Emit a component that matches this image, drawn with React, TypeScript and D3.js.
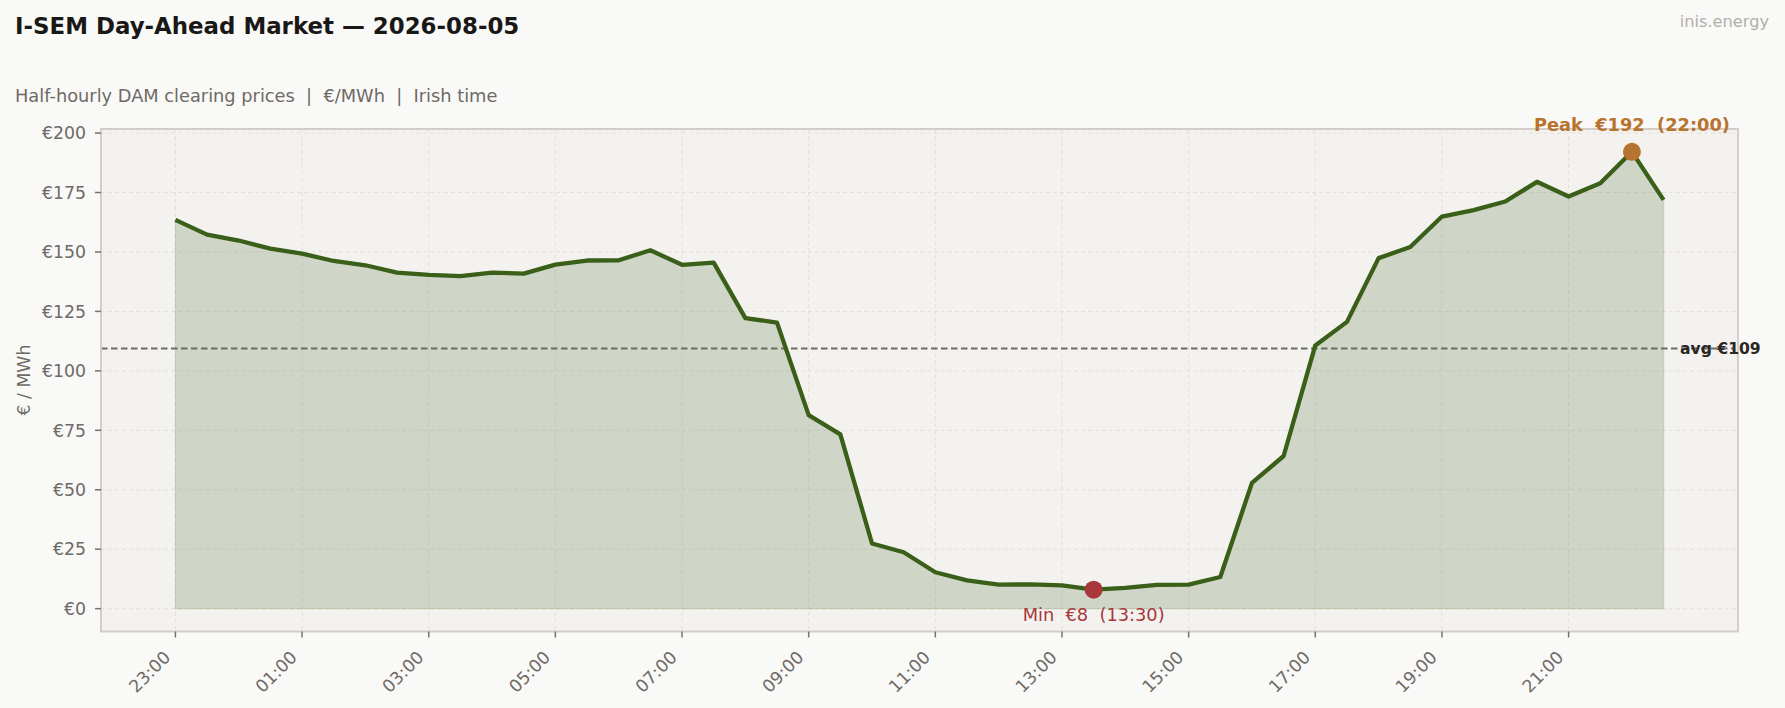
import React from "react";
import * as d3 from "d3";

const slots: string[] = [
  "23:00","23:30","00:00","00:30","01:00","01:30","02:00","02:30",
  "03:00","03:30","04:00","04:30","05:00","05:30","06:00","06:30",
  "07:00","07:30","08:00","08:30","09:00","09:30","10:00","10:30",
  "11:00","11:30","12:00","12:30","13:00","13:30","14:00","14:30",
  "15:00","15:30","16:00","16:30","17:00","17:30","18:00","18:30",
  "19:00","19:30","20:00","20:30","21:00","21:30","22:00","22:30",
];

const prices: number[] = [
  163.5, 157.3, 154.8, 151.4, 149.3, 146.2, 144.4, 141.3,
  140.4, 139.8, 141.3, 140.9, 144.7, 146.4, 146.5, 150.7,
  144.6, 145.5, 122.2, 120.3, 81.4, 73.3, 27.4, 23.7,
  15.3, 11.9, 10.1, 10.2, 9.8, 8.0, 8.7, 10.0,
  10.1, 13.3, 52.9, 64.2, 110.7, 120.6, 147.4, 152.1,
  164.9, 167.6, 171.2, 179.5, 173.3, 178.9, 192.1, 171.9,
];

const xTickLabels: string[] = ["23:00","01:00","03:00","05:00","07:00","09:00","11:00","13:00","15:00","17:00","19:00","21:00"];
const yTicks: number[] = [0, 25, 50, 75, 100, 125, 150, 175, 200];

const TITLE = "I-SEM Day-Ahead Market — 2026-08-05";
const SUBTITLE = "Half-hourly DAM clearing prices  |  €/MWh  |  Irish time";
const WATERMARK = "inis.energy";
const Y_LABEL = "€ / MWh";

const W = 1785;
const H = 708;
const FONT = "'DejaVu Sans', sans-serif";

export default function App() {
  const left = 101, right = 1738, top = 129, bottom = 631.5;
  const n = prices.length;
  const xPad = (n - 1) * 0.05;
  const x = d3.scaleLinear().domain([-xPad, n - 1 + xPad]).range([left, right]);
  const maxV = d3.max(prices) as number;
  const yPad = maxV * 0.05;
  const y = d3.scaleLinear().domain([-yPad, maxV + yPad]).range([bottom, top]);

  const data = prices.map((v, i) => ({ i, v }));
  const line = d3.line<{ i: number; v: number }>().x(d => x(d.i)).y(d => y(d.v));
  const area = d3.area<{ i: number; v: number }>().x(d => x(d.i)).y0(y(0)).y1(d => y(d.v));

  const avg = d3.mean(prices) as number;
  const maxI = prices.indexOf(maxV);
  const minV = d3.min(prices) as number;
  const minI = prices.indexOf(minV);

  const tickIdx = xTickLabels.map(l => slots.indexOf(l));
  const labelColor = "#6f6a65";

  return (
    <svg width={W} height={H} style={{ position: "absolute", left: 0, top: 0, fontFamily: FONT }}>
      <rect x={0} y={0} width={W} height={H} fill="#f9f9f7" />
      <text x={15} y={34} fontSize={22.9} fontWeight="bold" fill="#1a1816">{TITLE}</text>
      <text x={15} y={102} fontSize={17.8} fill="#6f6a65" style={{ whiteSpace: "pre" }}>{SUBTITLE}</text>
      <text x={1769} y={27} fontSize={16.2} fill="#b3afaa" textAnchor="end">{WATERMARK}</text>

      <rect x={left} y={top} width={right - left} height={bottom - top} fill="#f3f2ef" />
      {yTicks.map(t => (
        <line key={"gy" + t} x1={left} x2={right} y1={y(t)} y2={y(t)} stroke="#e3e0da" strokeWidth={1} strokeDasharray="4,3" />
      ))}
      {tickIdx.map(i => (
        <line key={"gx" + i} x1={x(i)} x2={x(i)} y1={top} y2={bottom} stroke="#e3e0da" strokeWidth={1} strokeDasharray="4,3" />
      ))}

      <path d={area(data) || ""} fill="#3a5f18" fillOpacity={0.19} stroke="#3a5f18" strokeOpacity={0.12} strokeWidth={1.5} />
      <line x1={left} x2={right - 5} y1={y(avg)} y2={y(avg)} stroke="#6d6b66" strokeWidth={2} strokeDasharray="6.5,3.5" />
      <path d={line(data) || ""} fill="none" stroke="#3a5f18" strokeWidth={4.3} strokeLinejoin="round" />

      <rect x={left} y={top} width={right - left} height={bottom - top} fill="none" stroke="#d3cfc8" strokeWidth={2} />

      {yTicks.map(t => (
        <g key={"yt" + t}>
          <line x1={left - 6} x2={left} y1={y(t)} y2={y(t)} stroke="#77726c" strokeWidth={1.5} />
          <text x={86} y={y(t)} dy="0.36em" textAnchor="end" fontSize={17.3} fill={labelColor}>{"€" + t}</text>
        </g>
      ))}
      <text transform={`translate(29.5,380) rotate(-90)`} textAnchor="middle" fontSize={17.3} fill={labelColor}>{Y_LABEL}</text>

      {tickIdx.map((i, k) => (
        <g key={"xt" + i}>
          <line x1={x(i)} x2={x(i)} y1={bottom} y2={bottom + 6} stroke="#77726c" strokeWidth={1.5} />
          <text transform={`translate(${x(i) - 4},${bottom + 27}) rotate(-45)`} textAnchor="end" fontSize={17.3} fill={labelColor}>{xTickLabels[k]}</text>
        </g>
      ))}

      <circle cx={x(maxI)} cy={y(maxV)} r={9} fill="#b8732e" />
      <text x={x(maxI)} y={y(maxV) - 21} textAnchor="middle" fontSize={17.8} fontWeight="bold" fill="#b8732e" style={{ whiteSpace: "pre" }}>
        {`Peak  €${Math.round(maxV)}  (${slots[maxI]})`}
      </text>
      <circle cx={x(minI)} cy={y(minV)} r={9} fill="#a8383b" />
      <text x={x(minI)} y={y(minV) + 31.5} textAnchor="middle" fontSize={17.8} fill="#a8383b" style={{ whiteSpace: "pre" }}>
        {`Min  €${Math.round(minV)}  (${slots[minI]})`}
      </text>
      <text x={1680} y={y(avg)} dy="0.35em" fontSize={15.6} fontWeight="bold" fill="#2a2622">{`avg €${Math.round(avg)}`}</text>
    </svg>
  );
}
